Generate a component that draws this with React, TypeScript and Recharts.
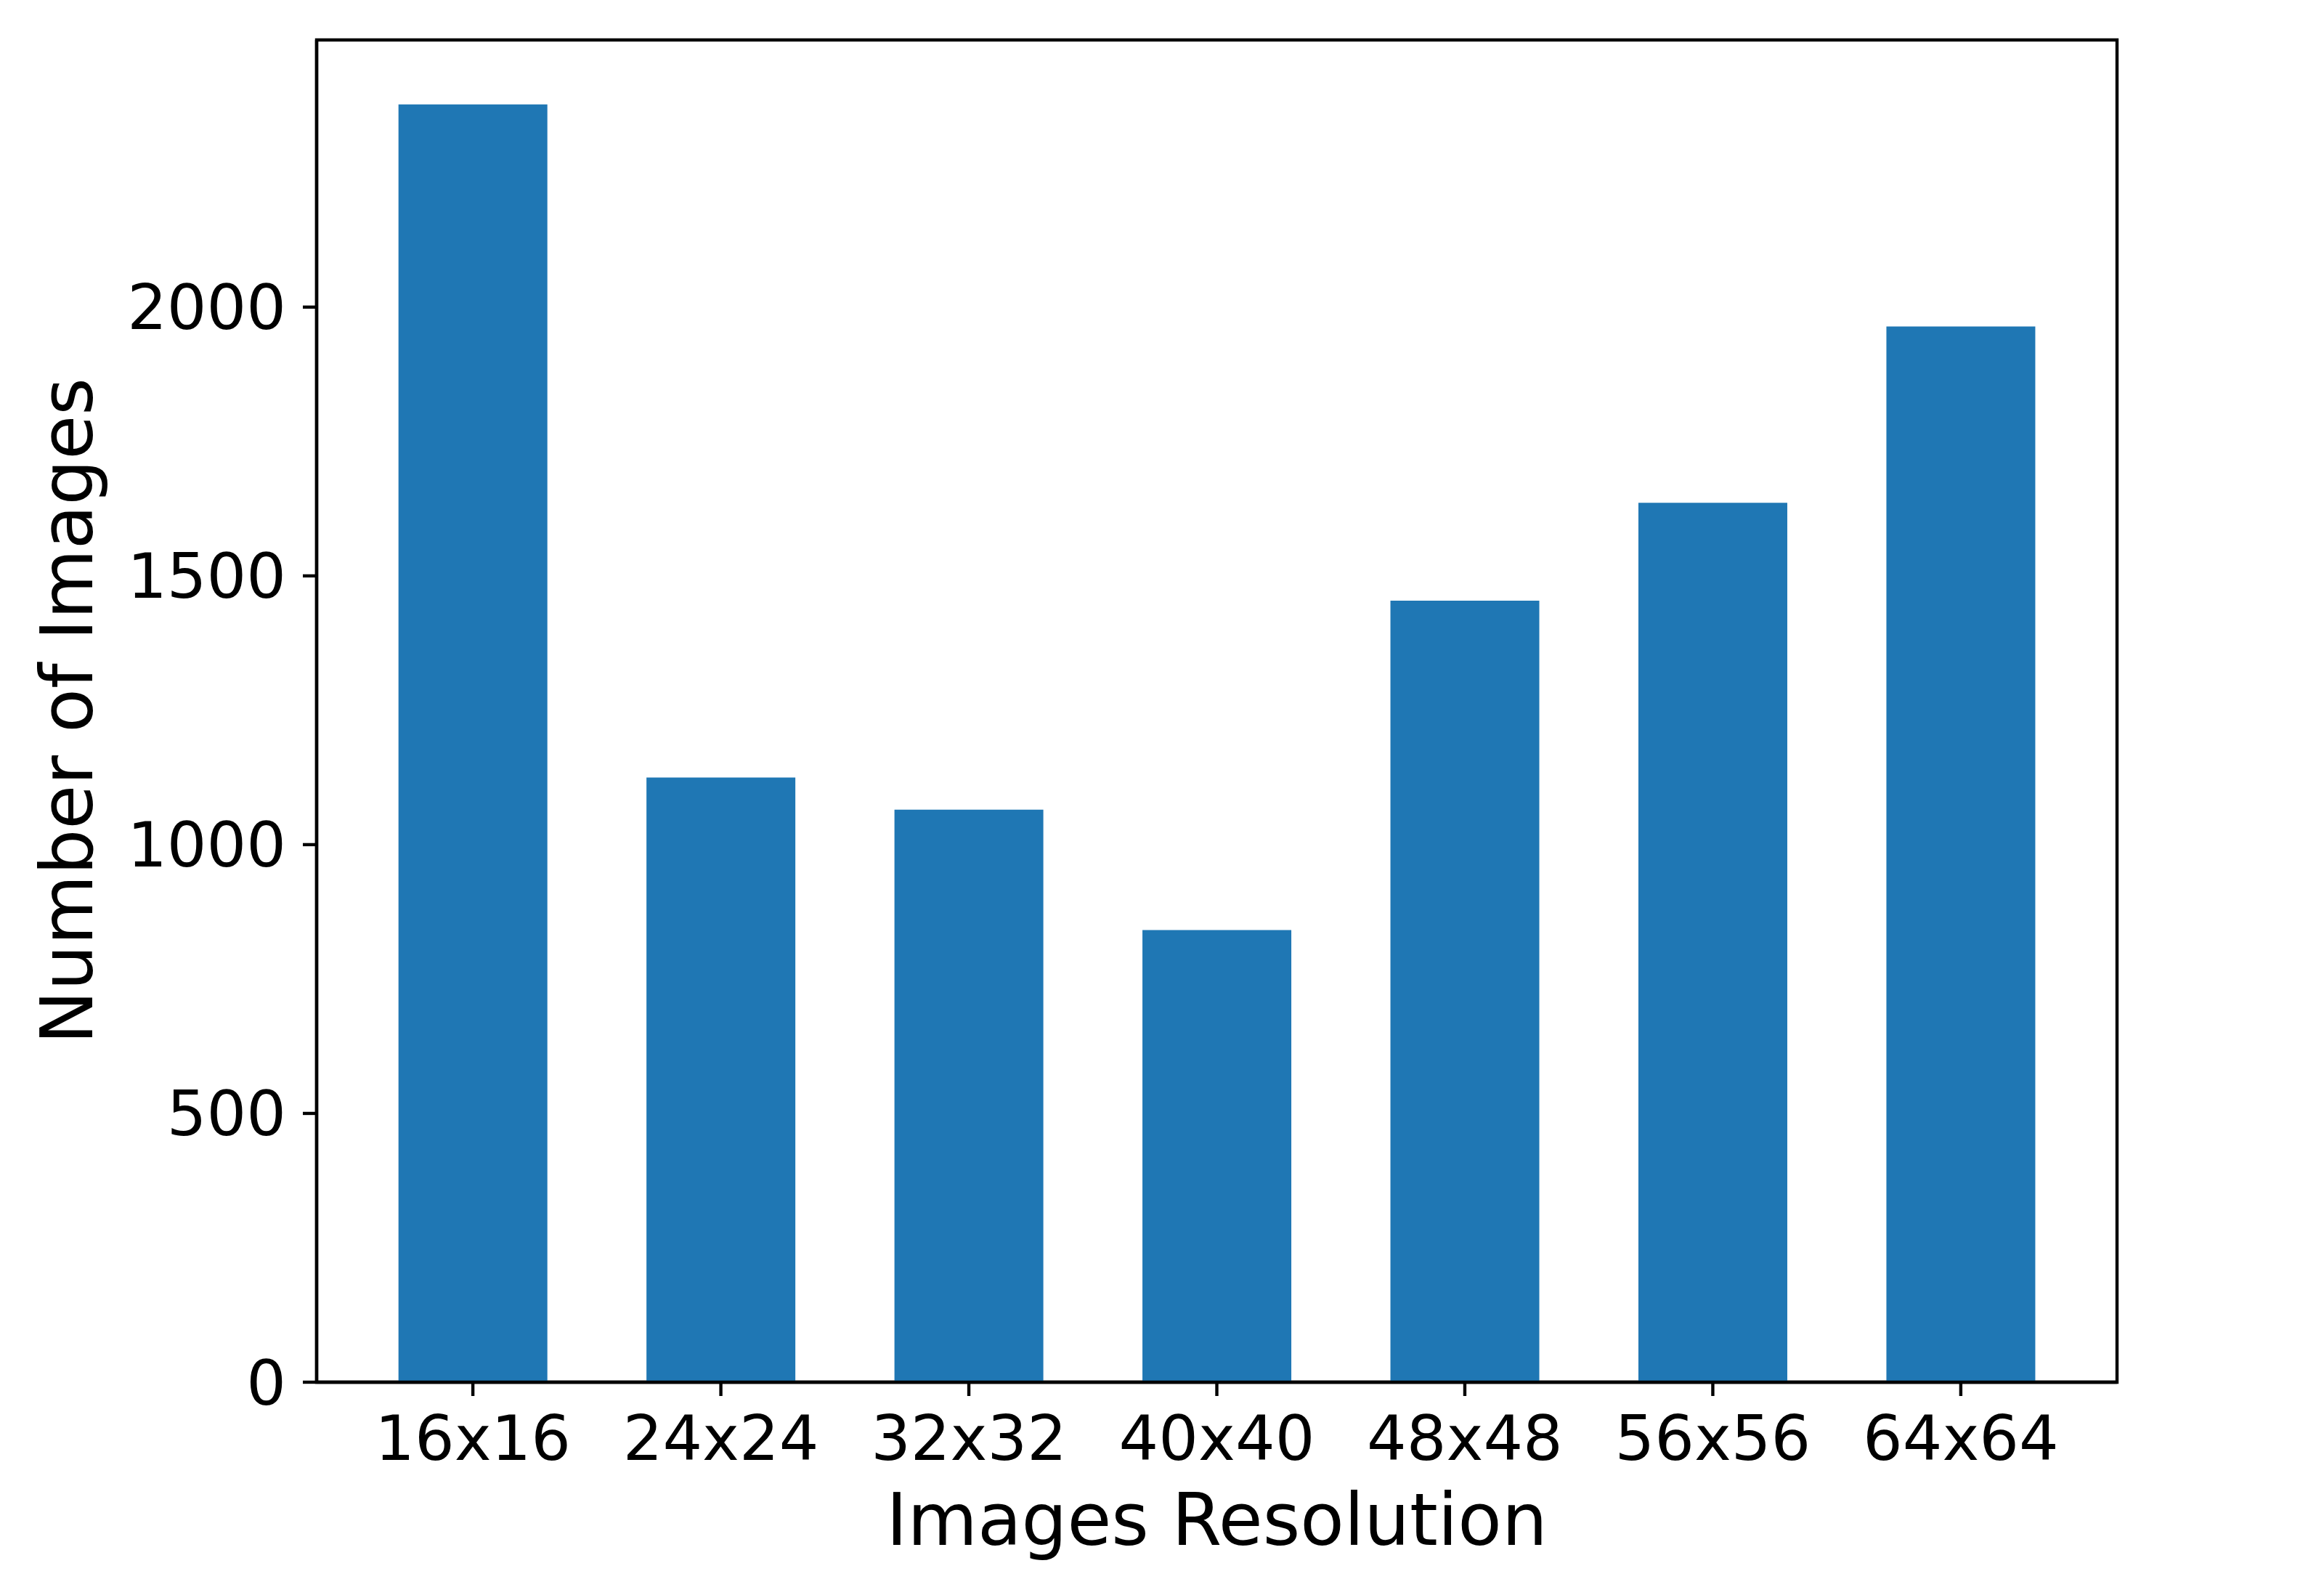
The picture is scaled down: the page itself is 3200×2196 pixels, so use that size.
import { Bar, BarChart, Label, ReferenceArea, XAxis, YAxis } from "recharts";

const resolutions = ["16x16", "24x24", "32x32", "40x40", "48x48", "56x56", "64x64"];
const imageCounts = [2377, 1125, 1065, 841, 1454, 1636, 1964];
const yTicks = [0, 500, 1000, 1500, 2000];

const chartData = resolutions.map((res, i) => ({ pos: i, res, count: imageCounts[i] }));
const xTicks = chartData.map((d) => d.pos);

// matplotlib-like limits (5% margins)
const xDomain = [-0.63, 6.63];
const yDomain = [0, 2497];

const font = "'DejaVu Sans', sans-serif";
const tickStyle = { fontSize: 86, fill: "#000", fontFamily: font };
const lineStyle = { stroke: "#000", strokeWidth: 4.4 };

const App = () => {
  return (
    <div style={{ position: "absolute", left: 0, top: 0, background: "#fff" }}>
      <BarChart
        width={3200}
        height={2196}
        data={chartData}
        margin={{ top: 55, right: 285, left: 0, bottom: 0 }}
        barCategoryGap="20%"
      >
        <XAxis
          dataKey="pos"
          type="number"
          domain={xDomain}
          ticks={xTicks}
          interval={0}
          allowDataOverflow
          tickFormatter={(v: number) => resolutions[v] ?? ""}
          height={293}
          tick={tickStyle}
          tickSize={19}
          tickMargin={27}
          tickLine={lineStyle}
          axisLine={lineStyle}
        >
          <Label
            value="Images Resolution"
            position="insideTop"
            offset={154}
            style={{ fontSize: 99, fill: "#000", fontFamily: font }}
          />
        </XAxis>
        <YAxis
          width={436}
          domain={yDomain}
          ticks={yTicks}
          allowDataOverflow
          tick={tickStyle}
          tickSize={19}
          tickMargin={23}
          tickLine={lineStyle}
          axisLine={lineStyle}
        >
          <Label
            value="Number of Images"
            angle={-90}
            position="insideLeft"
            offset={92}
            style={{ fontSize: 99, fill: "#000", fontFamily: font, textAnchor: "middle" }}
          />
        </YAxis>
        <Bar dataKey="count" fill="#1f77b4" isAnimationActive={false} />
        <ReferenceArea
          x1={xDomain[0]}
          x2={xDomain[1]}
          y1={yDomain[0]}
          y2={yDomain[1]}
          fill="none"
          stroke="#000"
          strokeWidth={4.4}
          ifOverflow="visible"
        />
      </BarChart>
    </div>
  );
};

export default App;
